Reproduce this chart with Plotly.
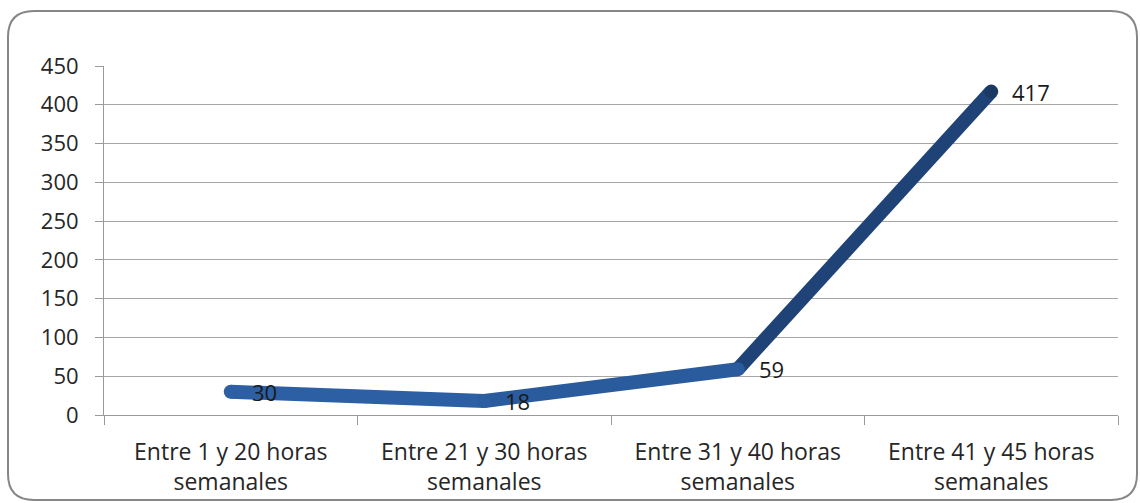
import plotly.graph_objects as go

categories = ["Entre 1 y 20 horas<br>semanales", "Entre 21 y 30 horas<br>semanales",
              "Entre 31 y 40 horas<br>semanales", "Entre 41 y 45 horas<br>semanales"]
values = [30, 18, 59, 417]
segment_colors = ["#2c5fa3", "#2a5b9c", "#1f4377"]
point_colors = ["#2c5fa3", "#2b5da0", "#2a5b9c", "#1a3a63"]
y_ticks = [0, 50, 100, 150, 200, 250, 300, 350, 400, 450]

W, H = 1140, 503
ML, MR, MT, MB = 104, 22, 66, 88
PW, PH = W - ML - MR, H - MT - MB
FONT = "Open Sans"

fig = go.Figure()
for i in range(len(values) - 1):
    fig.add_trace(go.Scatter(
        x=categories[i:i + 2], y=values[i:i + 2], mode="lines",
        line=dict(color=segment_colors[i], width=14), hoverinfo="skip", showlegend=False))
fig.add_trace(go.Scatter(
    x=categories, y=values, mode="markers",
    marker=dict(size=14, color=point_colors, line=dict(width=0)),
    hoverinfo="skip", showlegend=False))

for c, v in zip(categories, values):
    fig.add_annotation(x=c, y=v, text=str(v), showarrow=False, xanchor="left",
                       yanchor="middle", xshift=19, yshift=0,
                       font=dict(size=22, color="#1a1a1a", family=FONT))


def px(x):
    return (x - ML) / PW


def py(y):
    return (H - MB - y) / PH


x0, x1, y0, y1, r = 8, 1137, 11, 500, 26
path = (f"M {px(x0 + r)},{py(y0)} L {px(x1 - r)},{py(y0)} Q {px(x1)},{py(y0)} {px(x1)},{py(y0 + r)} "
        f"L {px(x1)},{py(y1 - r)} Q {px(x1)},{py(y1)} {px(x1 - r)},{py(y1)} "
        f"L {px(x0 + r)},{py(y1)} Q {px(x0)},{py(y1)} {px(x0)},{py(y1 - r)} "
        f"L {px(x0)},{py(y0 + r)} Q {px(x0)},{py(y0)} {px(x0 + r)},{py(y0)} Z")
fig.add_shape(type="path", path=path, xref="paper", yref="paper",
              line=dict(color="#868686", width=2), layer="below")

fig.update_layout(
    width=W, height=H, margin=dict(l=ML, r=MR, t=MT, b=MB),
    paper_bgcolor="white", plot_bgcolor="white",
    font=dict(family=FONT, size=22, color="#262626"),
    xaxis=dict(type="category", range=[-0.5, 3.5], tickson="boundaries", ticks="outside",
               ticklen=9, tickcolor="#9a9a9a", showline=True, linecolor="#9a9a9a",
               linewidth=1, showgrid=False, zeroline=False, fixedrange=True,
               ticklabelstandoff=16, tickfont=dict(size=23), automargin=False),
    yaxis=dict(range=[0, 450], tickvals=y_ticks, ticks="outside", ticklen=8,
               tickcolor="#9a9a9a", showline=True, linecolor="#9a9a9a", linewidth=1,
               showgrid=True, gridcolor="#a6a6a6", gridwidth=1, zeroline=False,
               ticklabelstandoff=12, tickfont=dict(size=22), automargin=False),
)

fig.write_html("out.html")
